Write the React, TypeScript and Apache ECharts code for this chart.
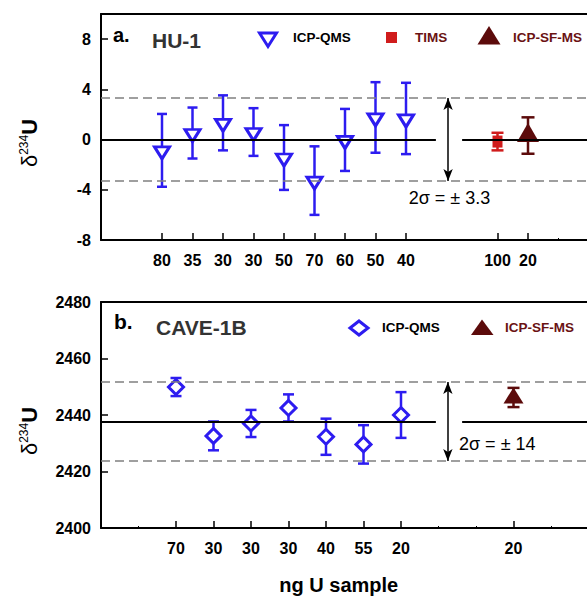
import React, { useEffect, useRef } from 'react';
import * as echarts from 'echarts';

const FONT = '"Liberation Sans", Arial, Helvetica, sans-serif';
const BLUE = '#2d1cf0';
const RED = '#d01c1c';
const DARK = '#5c0b0b';
const DARK_TEXT = '#6a1212';

// ---------- Panel a: HU-1 ----------
const aQmsPos = [0, 1, 2, 3, 4, 5, 6, 7, 8];
const aQmsVal = [-0.86, 0.52, 1.33, 0.6, -1.43, -3.27, -0.03, 1.76, 1.68];
const aQmsErr = [2.9, 2.03, 2.19, 1.9, 2.58, 2.73, 2.47, 2.81, 2.84];
const aTimsPos = [11];
const aTimsVal = [-0.16];
const aTimsErr = [0.7];
const aSfPos = [12];
const aSfVal = [0.32];
const aSfErr = [1.45];
const aTickPos = [0, 1, 2, 3, 4, 5, 6, 7, 8, 11, 12];
const aTickLabels = ['80', '35', '30', '30', '50', '70', '60', '50', '40', '100', '20'];
const aMinorTickPos = [13];
const aYTicks = [-8, -4, 0, 4, 8];
const aXRange = [-2, 14];
const aYRange = [-8, 10];
const aMean = 0;
const aTwoSigma = 3.3;
const aMeanSegments = [[-2, 8.98], [9.84, 14]];
const aArrowX = 9.38;

// ---------- Panel b: CAVE-1B ----------
const bQmsPos = [0, 1, 2, 3, 4, 5, 6];
const bQmsVal = [2449.9, 2432.6, 2437.0, 2442.5, 2432.3, 2429.6, 2440.0];
const bQmsErr = [3.2, 5.1, 4.8, 4.8, 6.4, 6.8, 8.1];
const bSfPos = [9];
const bSfVal = [2446.2];
const bSfErr = [3.4];
const bTickPos = [0, 1, 2, 3, 4, 5, 6, 9];
const bTickLabels = ['70', '30', '30', '30', '40', '55', '20', '20'];
const bMinorTickPos = [-1, 7, 8, 10];
const bXRange = [-2, 11];
const bYRange = [2400, 2480];
const bYInterval = 20;
const bMean = 2437.7;
const bTwoSigma = 14;
const bMeanSegments = [[-2, 6.93], [7.63, 11]];
const bArrowX = 7.25;

const labelFor = (pos: number[], labels: string[]) => (v: number) => {
  const i = pos.indexOf(Math.round(v));
  return i >= 0 ? labels[i] : '';
};

const axisLineStyle = { onZero: false, lineStyle: { color: '#000', width: 2 } };

function mainX(grid: number, range: number[], pos: number[], labels: string[], extra: any = {}) {
  return {
    type: 'value', gridIndex: grid, position: 'bottom', min: range[0], max: range[1],
    axisLine: axisLineStyle,
    axisTick: { show: true, inside: true, length: 7, customValues: pos, lineStyle: { color: '#000', width: 1.5 } },
    axisLabel: {
      show: true, customValues: pos, formatter: labelFor(pos, labels), margin: 12,
      fontSize: 16, fontWeight: 'bold', color: '#000', fontFamily: FONT,
    },
    splitLine: { show: false },
    ...extra,
  };
}
function minorX(grid: number, range: number[], pos: number[]) {
  return {
    type: 'value', gridIndex: grid, position: 'bottom', min: range[0], max: range[1],
    axisLine: { show: false, onZero: false },
    axisTick: { show: true, inside: true, length: 2, customValues: pos, lineStyle: { color: '#000', width: 1 } },
    axisLabel: { show: false },
    splitLine: { show: false },
  };
}
function topX(grid: number, range: number[]) {
  return {
    type: 'value', gridIndex: grid, position: 'top', min: range[0], max: range[1],
    axisLine: axisLineStyle,
    axisTick: { show: false }, axisLabel: { show: false }, splitLine: { show: false },
  };
}

const yName = {
  name: '{d|δ}{s|234}{u|U}',
  nameLocation: 'middle',
  nameGap: 61,
  nameRotate: 90,
  nameMoveOverlap: false,
  nameTextStyle: {
    color: '#000',
    padding: [0, 32, 0, 0],
    rich: {
      d: { fontSize: 22, fontFamily: FONT, color: '#000' },
      s: { fontSize: 12, fontFamily: FONT, color: '#000', verticalAlign: 'top' },
      u: { fontSize: 22, fontFamily: FONT, color: '#000', fontWeight: 'bold' },
    },
  },
};

const yLabel = {
  show: true, margin: 10, fontSize: 16, fontWeight: 'bold', color: '#000', fontFamily: FONT,
  formatter: (v: number) => String(v),
};
const yTick = { show: true, inside: true, length: 7, lineStyle: { color: '#000', width: 1.5 } };

function errorBars(xIdx: number, yIdx: number, pos: number[], val: number[], err: number[], color: string, capW: number, lw: number) {
  return {
    type: 'custom', xAxisIndex: xIdx, yAxisIndex: yIdx, silent: true, z: 2,
    data: pos.map((p, i) => [p, val[i] - err[i], val[i] + err[i]]),
    encode: { x: 0, y: [1, 2] },
    renderItem: (_params: any, api: any) => {
      const x = api.value(0);
      const lo = api.coord([x, api.value(1)]);
      const hi = api.coord([x, api.value(2)]);
      const h = capW / 2;
      const st = { stroke: color, lineWidth: lw };
      return {
        type: 'group',
        children: [
          { type: 'line', shape: { x1: lo[0], y1: lo[1], x2: hi[0], y2: hi[1] }, style: st },
          { type: 'line', shape: { x1: lo[0] - h, y1: lo[1], x2: lo[0] + h, y2: lo[1] }, style: st },
          { type: 'line', shape: { x1: hi[0] - h, y1: hi[1], x2: hi[0] + h, y2: hi[1] }, style: st },
        ],
      };
    },
  };
}

function points(xIdx: number, yIdx: number, name: string, pos: number[], val: number[], sym: any) {
  return {
    type: 'scatter', name, xAxisIndex: xIdx, yAxisIndex: yIdx, z: 3, silent: true,
    data: pos.map((p, i) => [p, val[i]]),
    ...sym,
    itemStyle: { opacity: 1, ...(sym.itemStyle || {}) },
  };
}

function refLines(xIdx: number, yIdx: number, mean: number, sigma: number, segs: number[][], arrowX: number) {
  return [
    {
      type: 'scatter', xAxisIndex: xIdx, yAxisIndex: yIdx, data: [], z: 1, silent: true,
      markLine: {
        silent: true, symbol: ['none', 'none'], label: { show: false },
        lineStyle: { color: '#808080', width: 1.5, type: [9, 5], opacity: 1 },
        data: [{ yAxis: mean + sigma }, { yAxis: mean - sigma }],
      },
    },
    {
      type: 'scatter', xAxisIndex: xIdx, yAxisIndex: yIdx, data: [], z: 1, silent: true,
      markLine: {
        silent: true, symbol: ['none', 'none'], label: { show: false },
        lineStyle: { color: '#000', width: 2, type: 'solid', opacity: 1 },
        data: segs.map(([x1, x2]) => [{ coord: [x1, mean] }, { coord: [x2, mean] }]),
      },
    },
    {
      type: 'scatter', xAxisIndex: xIdx, yAxisIndex: yIdx, data: [], z: 1, silent: true,
      markLine: {
        silent: true, symbol: ['arrow', 'arrow'], symbolSize: [7, 12], label: { show: false },
        lineStyle: { color: '#000', width: 1.5, type: 'solid', opacity: 1 },
        data: [[{ coord: [arrowX, mean - sigma] }, { coord: [arrowX, mean + sigma] }]],
      },
    },
  ];
}

const invTri = 'path://M0,0L20,0L10,16Z';
const upTri = 'path://M10,0L20,16L0,16Z';

export default function App() {
  const ref = useRef<HTMLDivElement>(null);
  useEffect(() => {
    if (!ref.current) return;
    const chart = echarts.init(ref.current, null, { renderer: 'svg' });
    const option: any = {
      animation: false,
      backgroundColor: '#fff',
      textStyle: { fontFamily: FONT },
      grid: [
        { left: 101, top: 14, width: 488, height: 226, containLabel: false, outerBoundsMode: 'none' },
        { left: 101, top: 302, width: 487.5, height: 226, containLabel: false, outerBoundsMode: 'none' },
      ],
      xAxis: [
        mainX(0, aXRange, aTickPos, aTickLabels),
        minorX(0, aXRange, aMinorTickPos),
        topX(0, aXRange),
        mainX(1, bXRange, bTickPos, bTickLabels, {
          name: 'ng U sample', nameLocation: 'middle', nameGap: 47, nameMoveOverlap: false,
          nameTextStyle: { fontSize: 20, fontWeight: 'bold', color: '#000', fontFamily: FONT, padding: [0, 12, 0, 0] },
        }),
        minorX(1, bXRange, bMinorTickPos),
        topX(1, bXRange),
      ],
      yAxis: [
        {
          type: 'value', gridIndex: 0, min: aYRange[0], max: aYRange[1],
          axisLine: axisLineStyle,
          axisTick: { ...yTick, customValues: aYTicks },
          axisLabel: { ...yLabel, customValues: aYTicks },
          splitLine: { show: false },
          ...yName,
        },
        {
          type: 'value', gridIndex: 1, min: bYRange[0], max: bYRange[1], interval: bYInterval,
          axisLine: axisLineStyle,
          axisTick: yTick,
          axisLabel: yLabel,
          splitLine: { show: false },
          ...yName,
        },
      ],
      series: [
        ...refLines(0, 0, aMean, aTwoSigma, aMeanSegments, aArrowX),
        errorBars(0, 0, aQmsPos, aQmsVal, aQmsErr, BLUE, 10, 2.5),
        errorBars(0, 0, aTimsPos, aTimsVal, aTimsErr, RED, 12, 2.5),
        errorBars(0, 0, aSfPos, aSfVal, aSfErr, DARK, 13, 2.5),
        points(0, 0, 'ICP-QMS', aQmsPos, aQmsVal, {
          symbol: invTri, symbolSize: [15, 12], symbolOffset: [0, 2.5],
          itemStyle: { color: '#fff', borderColor: BLUE, borderWidth: 3 },
        }),
        points(0, 0, 'TIMS', aTimsPos, aTimsVal, {
          symbol: 'rect', symbolSize: [10, 12], itemStyle: { color: RED },
        }),
        points(0, 0, 'ICP-SF-MS', aSfPos, aSfVal, {
          symbol: upTri, symbolSize: [22, 19], symbolOffset: [0, -3],
          itemStyle: { color: DARK },
        }),
        ...refLines(3, 1, bMean, bTwoSigma, bMeanSegments, bArrowX),
        errorBars(3, 1, bQmsPos, bQmsVal, bQmsErr, BLUE, 11, 2.5),
        errorBars(3, 1, bSfPos, bSfVal, bSfErr, DARK, 12, 2.5),
        points(3, 1, 'ICP-QMS b', bQmsPos, bQmsVal, {
          symbol: 'diamond', symbolSize: [15, 15],
          itemStyle: { color: '#fff', borderColor: BLUE, borderWidth: 3 },
        }),
        points(3, 1, 'ICP-SF-MS b', bSfPos, bSfVal, {
          symbol: upTri, symbolSize: [20, 16], symbolOffset: [0, -2],
          itemStyle: { color: DARK },
        }),
      ],
      graphic: [
        // panel titles
        { type: 'text', x: 113, y: 34.7, style: { text: 'a.', fontSize: 20, fontWeight: 'bold', fontFamily: FONT, fill: '#000', textVerticalAlign: 'middle' } },
        { type: 'text', x: 152, y: 40, style: { text: 'HU-1', fontSize: 21, fontWeight: 'bold', fontFamily: FONT, fill: '#333', textVerticalAlign: 'middle' } },
        { type: 'text', x: 114, y: 321, style: { text: 'b.', fontSize: 21, fontWeight: 'bold', fontFamily: FONT, fill: '#000', textVerticalAlign: 'middle' } },
        { type: 'text', x: 156, y: 327.5, style: { text: 'CAVE-1B', fontSize: 21, fontWeight: 'bold', fontFamily: FONT, fill: '#333', textVerticalAlign: 'middle' } },
        // sigma annotations
        { type: 'text', x: 449.5, y: 197.7, style: { text: '2σ = ± 3.3', fontSize: 18, fontFamily: FONT, fill: '#000', textAlign: 'center', textVerticalAlign: 'middle' } },
        { type: 'text', x: 459, y: 443.7, style: { text: '2σ = ± 14', fontSize: 18, fontFamily: FONT, fill: '#000', textAlign: 'left', textVerticalAlign: 'middle' } },
        // legend panel a
        { type: 'polygon', shape: { points: [[259.5, 33], [276.5, 33], [268, 46.5]] }, style: { fill: '#fff', stroke: BLUE, lineWidth: 3 } },
        { type: 'text', x: 293, y: 37.5, style: { text: 'ICP-QMS', fontSize: 13.5, fontWeight: 'bold', fontFamily: FONT, fill: '#000', textVerticalAlign: 'middle' } },
        { type: 'rect', shape: { x: 386, y: 32, width: 11, height: 11 }, style: { fill: RED } },
        { type: 'text', x: 415, y: 37.5, style: { text: 'TIMS', fontSize: 13.5, fontWeight: 'bold', fontFamily: FONT, fill: DARK_TEXT, textVerticalAlign: 'middle' } },
        { type: 'polygon', shape: { points: [[477.5, 44.5], [500.5, 44.5], [489, 26]] }, style: { fill: DARK } },
        { type: 'text', x: 513, y: 37.5, style: { text: 'ICP-SF-MS', fontSize: 13.5, fontWeight: 'bold', fontFamily: FONT, fill: DARK_TEXT, textVerticalAlign: 'middle' } },
        // legend panel b
        { type: 'polygon', shape: { points: [[359, 321], [368, 328], [359, 335], [350, 328]] }, style: { fill: '#fff', stroke: BLUE, lineWidth: 3 } },
        { type: 'text', x: 382, y: 327.5, style: { text: 'ICP-QMS', fontSize: 13.5, fontWeight: 'bold', fontFamily: FONT, fill: '#000', textVerticalAlign: 'middle' } },
        { type: 'polygon', shape: { points: [[471, 335], [493.5, 335], [482, 319.5]] }, style: { fill: DARK } },
        { type: 'text', x: 505, y: 327.5, style: { text: 'ICP-SF-MS', fontSize: 13.5, fontWeight: 'bold', fontFamily: FONT, fill: DARK_TEXT, textVerticalAlign: 'middle' } },
      ],
    };
    chart.setOption(option);
    return () => chart.dispose();
  }, []);
  return (
    <div
      ref={ref}
      style={{ position: 'fixed', left: 0, top: 0, width: 587, height: 596, background: '#fff', overflow: 'hidden' }}
    />
  );
}
